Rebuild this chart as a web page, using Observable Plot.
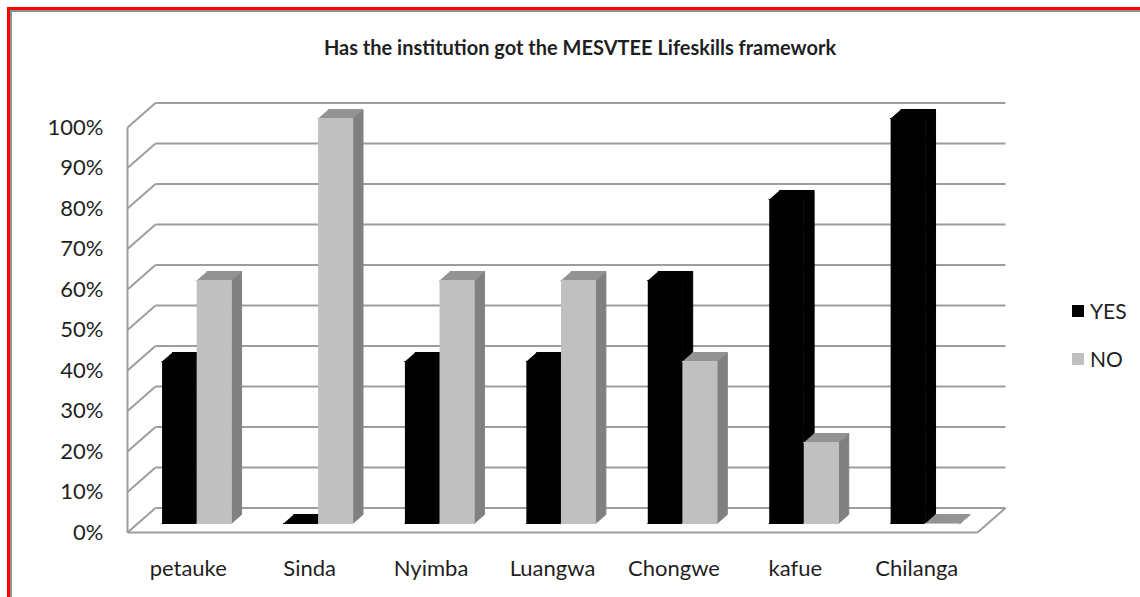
<!DOCTYPE html>
<html>
<head>
<meta charset="utf-8">
<script src="https://cdn.jsdelivr.net/npm/d3@7"></script>
<script src="https://cdn.jsdelivr.net/npm/@observablehq/plot@0.6"></script>
<style>
  html, body { margin: 0; padding: 0; background: #fff; }
  #wrap { position: relative; width: 1140px; height: 597px; overflow: hidden; font-family: Lato, "Open Sans", sans-serif; color: #1f1f1f; }
  .bd { position: absolute; }
  #title { height: 80px; width: 1140px; box-sizing: border-box; padding-top: 36px; padding-left: 20px; text-align: center; font-weight: bold; font-size: 20px; line-height: 22px; }
  #legend { position: absolute; left: 1072px; top: 296px; font-size: 21px; }
  .li { position: relative; height: 48px; }
  .sw { position: absolute; left: 0; top: 9px; width: 12px; height: 12px; }
  .lt { position: absolute; left: 18px; top: 0; line-height: 30px; }
  svg { display: block; }
</style>
</head>
<body>
<div id="wrap">
  <div class="bd" style="left:7px;top:7px;width:1133px;height:3px;background:#ff0000"></div>
  <div class="bd" style="left:10px;top:10px;width:1130px;height:2px;background:#8f8f8f"></div>
  <div class="bd" style="left:7px;top:7px;width:3px;height:590px;background:#ff0000"></div>
  <div class="bd" style="left:10px;top:10px;width:2px;height:587px;background:#8f8f8f"></div>
  <div id="title">Has the institution got the MESVTEE Lifeskills framework</div>
  <div id="chart"></div>
  <div id="legend"></div>
</div>
<script>
const categories = ["petauke", "Sinda", "Nyimba", "Luangwa", "Chongwe", "kafue", "Chilanga"];
const yesValues = [40, 0, 40, 40, 60, 80, 100];
const noValues = [60, 100, 60, 60, 40, 20, 0];
const seriesNames = ["YES", "NO"];
const yTicks = [0, 10, 20, 30, 40, 50, 60, 70, 80, 90, 100];

// colours per series: front, top, side
const palette = {
  YES: {front: "#000000", top: "#000000", side: "#000000"},
  NO: {front: "#c0c0c0", top: "#939393", side: "#808080"}
};

// 3D depth expressed in the scales' units (full depth of the box)
const DX = 0.2306, DY = 6.05;
const T1 = 0.367, T2 = 0.735;
const BW = 0.285, CENTER = 0.485;
const P = (x, y, t) => ({x: x + t * DX, y: y + t * DY});

const faces = [];
let fid = 0;
categories.forEach((cat, i) => {
  const vals = [yesValues[i], noValues[i]];
  seriesNames.forEach((s, k) => {
    const v = vals[k];
    const xL = i + CENTER - BW + k * BW, xR = xL + BW;
    const c = palette[s];
    const add = (pts, color) => { fid++; pts.forEach(p => faces.push({...p, id: fid, color})); };
    add([P(xR, 0, T1), P(xR, 0, T2), P(xR, v, T2), P(xR, v, T1)], c.side);
    add([P(xL, v, T1), P(xR, v, T1), P(xR, v, T2), P(xL, v, T2)], c.top);
    add([P(xL, 0, T1), P(xR, 0, T1), P(xR, v, T1), P(xL, v, T1)], c.front);
  });
});

const n = categories.length;
const gridLines = [];
yTicks.forEach(v => {
  gridLines.push({x1: DX, y1: v + DY, x2: n + DX, y2: v + DY});
  gridLines.push({x1: 0, y1: v, x2: DX, y2: v + DY});
});
gridLines.push({x1: 0, y1: 0, x2: 0, y2: 100});
gridLines.push({x1: 0, y1: 0, x2: n, y2: 0});
gridLines.push({x1: n, y1: 0, x2: n + DX, y2: DY});

const chart = Plot.plot({
  width: 1140,
  height: 517,
  marginLeft: 127,
  marginRight: 163,
  marginTop: 47,
  marginBottom: 65,
  style: {fontFamily: "Lato, 'Open Sans', sans-serif", color: "#1f1f1f", background: "transparent"},
  x: {domain: [0, n]},
  y: {domain: [0, 100]},
  marks: [
    Plot.link(gridLines, {x1: "x1", y1: "y1", x2: "x2", y2: "y2", stroke: "#9d9d9d", strokeWidth: 2}),
    Plot.line(faces, {x: "x", y: "y", z: "id", fill: d => d.color, stroke: d => d.color, strokeWidth: 1, strokeLinejoin: "round"}),
    Plot.axisY({ticks: yTicks, tickFormat: d => d + "%", tickSize: 0, tickPadding: 24, fontSize: 22, label: null}),
    Plot.axisX({ticks: categories.map((c, i) => i + 0.5), tickFormat: d => categories[Math.floor(d)], tickSize: 0, tickPadding: 28, fontSize: 22, label: null})
  ]
});
document.getElementById("chart").appendChild(chart);

const legend = document.getElementById("legend");
seriesNames.forEach(s => {
  const item = document.createElement("div");
  item.className = "li";
  item.innerHTML = `<div class="sw" style="background:${palette[s].front}"></div><div class="lt">${s}</div>`;
  legend.appendChild(item);
});
</script>
</body>
</html>
